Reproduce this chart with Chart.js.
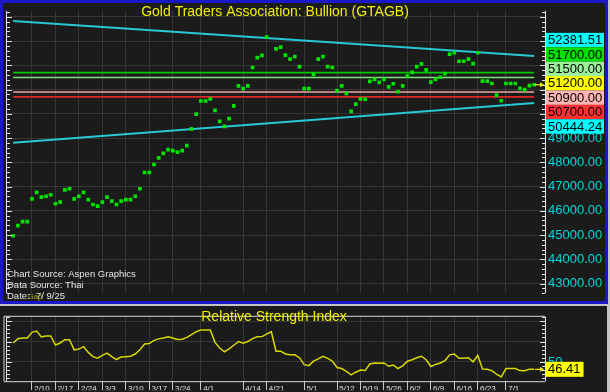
<!DOCTYPE html>
<html><head><meta charset="utf-8">
<script src="https://cdn.jsdelivr.net/npm/chart.js@4.4.1/dist/chart.umd.min.js"></script>
<style>
html,body{margin:0;padding:0;background:#c4c4c4;width:610px;height:392px;overflow:hidden;}
#mainFrame{position:absolute;left:0;top:0;width:608px;height:304px;box-sizing:border-box;border:3px solid #1818c8;background:#1b1b1b;}
#rsiFrame{position:absolute;left:0;top:306px;width:607px;height:86px;background:#1b1b1b;}
#mainWrap{position:absolute;left:0;top:0;width:610px;height:304px;}
#rsiWrap{position:absolute;left:0;top:306px;width:610px;height:86px;}
</style></head><body>
<div id="mainFrame"></div><div id="rsiFrame"></div>
<div id="mainWrap"><canvas id="main"></canvas></div>
<div id="rsiWrap"><canvas id="rsi"></canvas></div>
<script>
const dates = ['2/4','2/5','2/6','2/7','2/10','2/11','2/12','2/13','2/14','2/17','2/18','2/19','2/20','2/21','2/24','2/25','2/26','2/27','2/28',
'3/3','3/4','3/5','3/6','3/7','3/10','3/11','3/12','3/13','3/14','3/17','3/18','3/19','3/20','3/21','3/24','3/25','3/26','3/27','3/28','3/31',
'4/1','4/2','4/3','4/4','4/7','4/8','4/9','4/10','4/11','4/14','4/15','4/16','4/17','4/18','4/21','4/22','4/23','4/24','4/25','4/28','4/29','4/30',
'5/1','5/2','5/5','5/6','5/7','5/8','5/9','5/12','5/13','5/14','5/15','5/16','5/19','5/20','5/21','5/22','5/23','5/26','5/27','5/28','5/29','5/30',
'6/2','6/3','6/4','6/5','6/6','6/9','6/10','6/11','6/12','6/13','6/16','6/17','6/18','6/19','6/20','6/23','6/24','6/25','6/26','6/27','6/30',
'7/1','7/2','7/3','7/4','7/7','7/8','7/9'];

const prices = [44970,45390,45550,45550,46490,46760,46560,46600,46660,46290,
46360,46860,46910,46490,46600,46760,46460,46260,46190,46360,
46560,46400,46260,46400,46460,46460,46600,46910,47580,47580,
47910,48180,48370,48520,48480,48420,48480,48690,49380,49990,
50530,50530,50610,50140,49690,49480,49800,50330,51150,51040,
51150,51910,52320,52410,53170,null,52680,52750,52420,52260,
52360,51950,51040,51040,51630,52260,52360,51950,51910,50960,
51150,50840,50100,50400,50620,50600,51340,51420,51300,51420,
51110,51240,50910,51150,51560,51710,51950,52060,51810,51310,
51420,51510,51660,52460,52520,52170,52170,52260,52070,52520,
51350,51350,51250,50770,50540,51250,51250,51250,51050,51000,
51160,51200];

const rsiValues = [59.3,61.4,61.7,61.7,64.5,65.1,62.2,62.7,62.7,58.3,
59.3,60.9,60.9,55.9,56.3,57.5,54.7,52.6,51.9,53.2,
54.3,52.6,51.2,52.4,52.6,52.8,53.9,56.0,58.8,59.0,
60.6,61.3,61.7,62.3,61.7,61.0,61.1,62.0,63.4,64.8,
65.7,65.7,65.7,59.6,56.8,55.0,56.4,58.2,60.0,59.2,
60.0,61.4,62.3,62.4,63.6,64.8,55.3,55.3,53.9,53.5,
53.5,52.1,48.7,48.2,50.4,51.5,52.8,51.8,50.4,47.3,
46.8,45.4,43.7,45.0,46.1,45.8,49.0,49.5,49.4,49.5,
47.9,48.5,46.8,48.1,50.4,51.1,52.1,52.8,51.1,47.8,
48.8,49.5,50.7,53.5,53.9,51.8,51.8,52.1,50.1,53.2,
46.5,46.4,45.8,44.0,42.7,46.8,46.8,46.8,45.8,45.7,
46.5,46.41];

const levelValues = [51700, 51500, 50900, 50700];
const trendUpper = [53834, 52381.51];   // value at first and last date
const trendLower = [48806, 50444.24];
const tickDates = ['2/10','2/17','2/24','3/3','3/10','3/17','3/24','4/1','4/14','4/21','5/1','5/12','5/19','5/26','6/2','6/9','6/16','6/23','7/1'];
const priceTicks = [43000,44000,45000,46000,47000,48000,49000,50000,51000,52000,53000,54000];
const priceLabelMax = 49000;
const rsiTicks = [50,60,70];
const rsiLabelTicks = [50];

const titleText = 'Gold Traders Association: Bullion (GTAGB)';
const rsiTitle = 'Relative Strength Index';
const srcLines = ['Chart Source: Aspen Graphics', 'Data Source: Thai'];
const dateText = ['Date:', 'Gap', '7/ 9/25'];

// styles
const levelLineColors = ['#00c800','#80e080','#f0a8a8','#e02828'];
const levelBoxColors = ['#00e000','#9cf09c','#ffb4b4','#ff3030'];
const FONT = '"Liberation Sans", Arial, sans-serif';

const tickIdx = tickDates.map(d => dates.indexOf(d));
const last = dates.length - 1;

function line(ctx, x1, y1, x2, y2){ ctx.beginPath(); ctx.moveTo(x1,y1); ctx.lineTo(x2,y2); ctx.stroke(); }

function drawAxes(chart, step, major){
  const {ctx, chartArea:a, scales:{y}} = chart;
  ctx.strokeStyle = '#e4e4e4'; ctx.lineWidth = 1;
  line(ctx, a.left-0.5, a.top, a.left-0.5, a.bottom);
  line(ctx, a.right+0.5, a.top, a.right+0.5, a.bottom);
  for (let v = Math.ceil(y.min/step)*step; v <= y.max; v += step){
    const py = Math.round(y.getPixelForValue(v)) + 0.5;
    const len = (Math.abs(v % major) < 1e-6) ? 5 : 3;
    line(ctx, a.left, py, a.left+len, py);
    line(ctx, a.right-len, py, a.right, py);
  }
}

function drawArrow(ctx, xEnd, py){
  ctx.strokeStyle = '#f0f000'; ctx.fillStyle = '#f0f000'; ctx.lineWidth = 1.2;
  line(ctx, xEnd-9, py, xEnd-3, py);
  ctx.beginPath(); ctx.moveTo(xEnd-4, py-2.5); ctx.lineTo(xEnd, py); ctx.lineTo(xEnd-4, py+2.5); ctx.closePath(); ctx.fill();
}

const mainDecor = {
  id: 'mainDecor',
  afterDraw(chart){
    const {ctx, chartArea:a, scales:{y}} = chart;
    ctx.save();
    drawAxes(chart, 200, 1000);
    // title
    ctx.font = '14px ' + FONT; ctx.fillStyle = '#f0f000';
    ctx.textAlign = 'center'; ctx.textBaseline = 'middle';
    ctx.fillText(titleText, 275, 12);
    // source text
    ctx.font = '9.5px ' + FONT; ctx.fillStyle = '#e6e6e6'; ctx.textAlign = 'left';
    ctx.fillText(srcLines[0], a.left, 274);
    ctx.fillText(srcLines[1], a.left, 285.5);
    ctx.fillText(dateText[0], a.left, 296.5);
    ctx.fillText(dateText[2], a.left+29, 296.5);
    ctx.font = '7.5px ' + FONT; ctx.fillStyle = '#b0b020';
    ctx.fillText(dateText[1], a.left+21, 297);
    // last price arrow
    drawArrow(ctx, a.right-1, y.getPixelForValue(prices[last]));
    // value boxes
    const items = [
      {v: trendUpper[1], bg: '#00ffff'},
      {v: levelValues[0], bg: levelBoxColors[0]},
      {v: levelValues[1], bg: levelBoxColors[1]},
      {v: prices[last], bg: '#ffff00'},
      {v: levelValues[2], bg: levelBoxColors[2]},
      {v: levelValues[3], bg: levelBoxColors[3]},
      {v: trendLower[1], bg: '#00ffff'}
    ].map(o => Object.assign(o, {py: y.getPixelForValue(o.v)}));
    items.sort((p,q) => p.py - q.py);
    const h = 14.4;
    let groups = items.map(it => ({items:[it], c: it.py}));
    let merged = true;
    while (merged){
      merged = false;
      for (let i = 0; i < groups.length-1; i++){
        const g1 = groups[i], g2 = groups[i+1];
        const b1 = g1.c + g1.items.length*h/2, t2 = g2.c - g2.items.length*h/2;
        if (b1 > t2){
          const its = g1.items.concat(g2.items);
          const c = its.reduce((s,it)=>s+it.py,0)/its.length;
          groups.splice(i, 2, {items: its, c});
          merged = true; break;
        }
      }
    }
    ctx.font = '13px ' + FONT; ctx.textBaseline = 'middle'; ctx.textAlign = 'left';
    groups.forEach(g => {
      let top = g.c - g.items.length*h/2;
      g.items.forEach(it => {
        ctx.fillStyle = it.bg;
        ctx.fillRect(a.right+1, top, 58, h);
        ctx.fillStyle = '#000';
        ctx.fillText(it.v.toFixed(2), a.right+3, top + h/2 + 0.5);
        top += h;
      });
    });
    ctx.restore();
  }
};

const rsiDecor = {
  id: 'rsiDecor',
  afterDraw(chart){
    const {ctx, chartArea:a, scales:{y}} = chart;
    ctx.save();
    drawAxes(chart, 2, 10);
    ctx.strokeStyle = '#d8d8d8'; ctx.lineWidth = 1;
    line(ctx, a.left-3, a.top-0.5, a.right, a.top-0.5);
    line(ctx, a.left-3, a.top-0.5, a.left-3, a.bottom);
    line(ctx, a.left-3, a.bottom+0.5, a.right, a.bottom+0.5);
    ctx.font = '14px ' + FONT; ctx.fillStyle = '#f0f000';
    ctx.textAlign = 'center'; ctx.textBaseline = 'middle';
    ctx.fillText(rsiTitle, 274, 11);
    const py = y.getPixelForValue(rsiValues[last]);
    drawArrow(ctx, a.right-1, py);
    const txt = rsiValues[last].toFixed(2);
    ctx.font = '13px ' + FONT;
    const w = ctx.measureText(txt).width + 5;
    ctx.fillStyle = '#ffff00';
    ctx.fillRect(a.right+1, py-7.5, w, 15);
    ctx.fillStyle = '#000'; ctx.textAlign = 'left';
    ctx.fillText(txt, a.right+3, py+0.5);
    ctx.restore();
  }
};

const xCommon = {
  type: 'linear', min: -1.32, max: 113.32,
  afterBuildTicks: s => { s.ticks = tickIdx.map(v => ({value: v})); },
};

new Chart(document.getElementById('main'), {
  type: 'scatter',
  data: {
    datasets: [
      { data: prices.map((v,i) => ({x:i, y:v})), pointStyle: 'rect', pointRadius: 2.6,
        pointBackgroundColor: '#00e400', pointBorderWidth: 0, showLine: false },
      ...levelValues.map((v,k) => ({ data: [{x:0,y:v},{x:last,y:v}], showLine: true,
        borderColor: levelLineColors[k], borderWidth: 1.6, pointRadius: 0 })),
      { data: [{x:0,y:trendUpper[0]},{x:last,y:trendUpper[1]}], showLine: true, borderColor: '#28c8d4', borderWidth: 2, pointRadius: 0 },
      { data: [{x:0,y:trendLower[0]},{x:last,y:trendLower[1]}], showLine: true, borderColor: '#28c8d4', borderWidth: 2, pointRadius: 0 }
    ]
  },
  options: {
    responsive: true, maintainAspectRatio: false, animation: false, devicePixelRatio: 1,
    layout: { padding: {left: 7, top: 4, right: 7, bottom: 3} },
    plugins: { legend: {display: false}, tooltip: {enabled: false} },
    scales: {
      x: Object.assign({}, xCommon, {
        ticks: {display: false}, border: {display: false},
        grid: {color: '#363636', drawTicks: false},
        afterFit: s => { s.height = 0; }
      }),
      y: {
        position: 'right', min: 42600, max: 54250,
        afterBuildTicks: s => { s.ticks = priceTicks.map(v => ({value: v})); },
        ticks: { autoSkip: false, padding: 3, color: '#00d8d8', font: {family: FONT, size: 13},
          callback: v => v <= priceLabelMax ? v.toFixed(2) : '' },
        grid: {color: '#363636', drawTicks: false}, border: {display: false},
        afterFit: s => { s.width = 58; }
      }
    }
  },
  plugins: [mainDecor]
});

new Chart(document.getElementById('rsi'), {
  type: 'scatter',
  data: {
    datasets: [
      { data: rsiValues.map((v,i) => ({x:i, y:v})), showLine: true, borderColor: '#d8d800',
        borderWidth: 1.5, pointRadius: 0 }
    ]
  },
  options: {
    responsive: true, maintainAspectRatio: false, animation: false, devicePixelRatio: 1,
    layout: { padding: {left: 7, top: 3, right: 7, bottom: 0} },
    plugins: { legend: {display: false}, tooltip: {enabled: false} },
    scales: {
      x: Object.assign({}, xCommon, {
        ticks: { autoSkip: false, maxRotation: 0, align: 'start', padding: -6, color: '#e0e0e0',
          font: {family: FONT, size: 8}, callback: v => ' ' + dates[v] },
        border: {display: false},
        grid: {color: '#363636', tickColor: '#c8c8c8', tickLength: 9},
        afterFit: s => { s.height = 9; }
      }),
      y: {
        position: 'right', min: 40.6, max: 72.1,
        afterBuildTicks: s => { s.ticks = rsiTicks.map(v => ({value: v})); },
        ticks: { autoSkip: false, padding: 3, color: '#00d8d8', font: {family: FONT, size: 13},
          callback: v => rsiLabelTicks.includes(v) ? String(v) : '' },
        grid: {color: '#363636', drawTicks: false}, border: {display: false},
        afterFit: s => { s.width = 58; }
      }
    }
  },
  plugins: [rsiDecor]
});
</script>
</body></html>
